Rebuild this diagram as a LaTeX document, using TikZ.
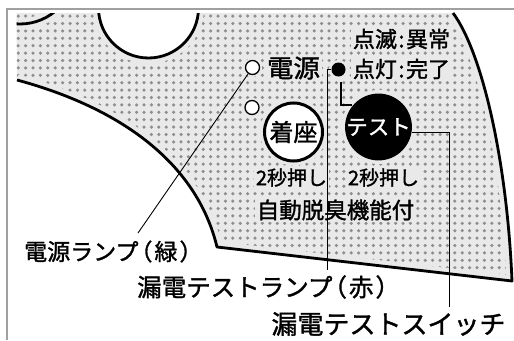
\documentclass[tikz,border=0pt]{standalone}
\usepackage{fontspec}
\setmainfont{Noto Sans CJK JP}[FakeBold=1.4]
\definecolor{bgc}{HTML}{E9E9E9}
\definecolor{dotc}{HTML}{8E8E8E}
\definecolor{framec}{HTML}{A0A0A0}
\newcommand{\fs}[1]{\fontsize{#1}{#1}\selectfont}
\begin{document}
\begin{tikzpicture}[x=1pt,y=-1pt,
  bdr/.style={line width=2.8pt, line join=round},
  lead/.style={line width=0.9pt},
  lampc/.style={circle, draw, line width=1.3pt, fill=white, minimum size=14pt, inner sep=0pt, preaction={draw=bgc, line width=5pt}},
  txt/.style={inner sep=1.5pt, fill=bgc, text=black},
  lbl/.style={inner sep=0pt, text=black},
]
\useasboundingbox (0,0) rectangle (514,340);
\def\regionpath{(16.5,13) -- (453,13) .. controls (482,52) and (507,160) .. (512,281) -- (217,247) .. controls (198,168) and (128,110) .. (17,80) -- cycle}
% frame
\draw[framec, line width=1.5pt] (7,340) -- (7,9) -- (514,9);
% dotted panel
\begin{scope}
  \clip \regionpath;
  \fill[bgc] (0,0) rectangle (514,340);
  \fill[dotc] \foreach \i in {0,...,67}{\foreach \j in {0,...,36}{ ({18.2+7.4*\i},{16.1+7.4*\j}) circle (1.75pt)}};
  \draw[bgc, line width=11pt] (453,13) .. controls (482,52) and (507,160) .. (512,281) -- (217,247) .. controls (198,168) and (128,110) .. (17,80);
  \draw[bgc, line width=11pt] (148.5,8) circle (50pt);
  \draw[bgc, line width=11pt] (20,-31) circle (55pt);
\end{scope}
\begin{scope}
  \clip (16.5,13) rectangle (514,340);
  \fill[white] (148.5,8) circle (50pt);
  \draw[bdr] (148.5,8) circle (50pt);
  \draw[bdr] (20,-31) circle (55pt);
\end{scope}
\draw[bdr] (453,13) .. controls (482,52) and (507,160) .. (512,281) -- (217,247) .. controls (198,168) and (128,110) .. (17,80);
% buttons and lamps
\node[circle, draw, line width=3pt, fill=white, minimum size=58pt, inner sep=0pt, preaction={draw=bgc, line width=9pt}, font=\fs{24}] (seat) at (293.5,132) {着座};
\node[circle, fill=black, minimum size=60pt, inner sep=0pt, preaction={draw=bgc, line width=7pt}, text=white, font=\fs{21.5}] (test) at (378.5,127) {テスト};
\node[lampc] (pwr) at (252.5,67.5) {};
\node[lampc] (seatlamp) at (252,107.5) {};
\node[circle, fill=black, minimum size=14pt, inner sep=0pt, preaction={draw=bgc, line width=5pt}] (dot) at (338.5,69.5) {};
% texts on panel
\node[txt, font=\fs{22}] (blink) at (401.5,39) {点滅\kern1.5pt:\kern1.5pt異常};
\node[txt, font=\fs{22}] (lit) at (401.5,69) {点灯\kern1.5pt:\kern1.5pt完了};
\node[txt, font=\fs{25}] (pwrtxt) at (293.5,68) {\scalebox{1.06}[1]{電源}};
\node[txt, font=\fs{20}] (sec1) at (291.5,177.5) {2秒押し};
\node[txt, font=\fs{20}] (sec2) at (383.5,177.5) {2秒押し};
\node[txt, font=\fs{22.5}] (deo) at (335.5,210) {自動脱臭機能付};
% leaders
\coordinate (pwrend) at (138,233);
\draw[lead] (pwr) -- (pwrend);
\coordinate (lampend) at (327,270);
\draw[lead] (dot.west) -| (lampend);
\coordinate (swend) at (449,307);
\draw[lead] (test.-10) -| (swend);
\coordinate (la) at (341,82);
\coordinate (lb) at (341,105);
\coordinate (lc) at (352,105);
\draw[line width=1.3pt] (la) -- (lb) -- (lc);
% labels
\node[lbl, anchor=west, font=\fs{23}] (lblpwr) at (24,251.5) {電源ランプ\kern-9pt（\kern2pt緑\kern2pt）};
\node[lbl, anchor=west, font=\fs{24.5}] (lbllamp) at (137,287) {漏電テストランプ\kern-10pt（\kern2pt赤\kern2pt）};
\node[lbl, font=\fs{26}] (lblsw) at (388.5,324) {漏電テストスイッチ};
\end{tikzpicture}
\end{document}
